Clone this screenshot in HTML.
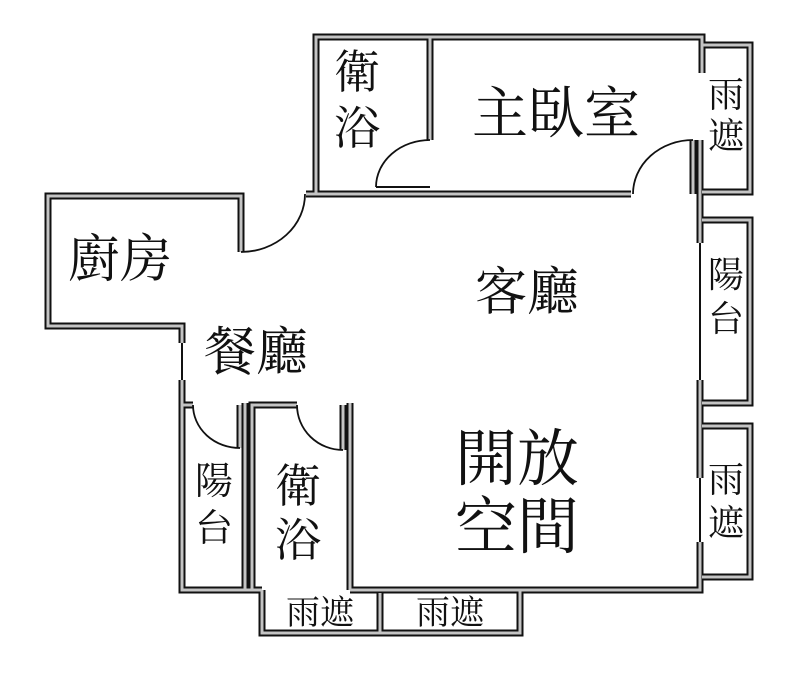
<!DOCTYPE html>
<html><head><meta charset="utf-8"><style>
html,body{margin:0;padding:0;background:#fff;}
svg{display:block;}
text{font-family:"Liberation Serif","Noto Serif CJK SC","Noto Sans CJK TC",serif;fill:#111;text-anchor:middle;}
.wb{fill:none;stroke:#111;stroke-width:7;stroke-linecap:butt;stroke-linejoin:miter;}
.wg{fill:none;stroke:#c4c4c4;stroke-width:3;stroke-linecap:butt;stroke-linejoin:miter;}
.t{fill:none;stroke:#111;stroke-width:2;}
.d{fill:none;stroke:#111;stroke-width:1.8;}
</style></head><body>
<svg width="800" height="698" viewBox="0 0 800 698">
<defs>
<g id="walls">
  <polyline points="316,193 316,37 702,37 702,73"/>
  <polyline points="430,37 430,140"/>
  <polyline points="306,194 631,194"/>
  <polyline points="693,140 693,194"/>
  <polyline points="702,45 750,45 750,192 702,192"/>
  <polyline points="700,140 700,243"/>
  <polyline points="700,380 700,478"/>
  <polyline points="700,542 700,590 350,590"/>
  <polyline points="702,220 750,220 750,403 702,403"/>
  <polyline points="702,426 750,426 750,577 702,577"/>
  <polyline points="241,252 241,196 48,196 48,326 182,326 182,343"/>
  <polyline points="182,380 182,590 245,590 245,403"/>
  <polyline points="182,405 193,405"/>
  <polyline points="240,405 240,448"/>
  <polyline points="252,590 252,405 297,405"/>
  <polyline points="350,590 350,403"/>
  <polyline points="343,405 343,450"/>
  <polyline points="262,590 262,633 520,633 520,590"/>
  <polyline points="380,593 380,633"/>
  <polyline points="245,590 262,590"/>
</g>
</defs>
<g class="wb"><use href="#walls"/></g>
<g class="wg"><use href="#walls"/></g>
<line class="t" x1="700" y1="243" x2="700" y2="380"/>
<line class="t" x1="700" y1="478" x2="700" y2="542"/>
<line class="t" x1="182" y1="343" x2="182" y2="380"/>
<path class="d" d="M430,140 A54,47 0 0 0 376,187"/>
<line x1="376" y1="187" x2="430" y2="187" stroke="#111" stroke-width="2"/>
<path class="d" d="M693,140 A60,54 0 0 0 633,194"/>
<path class="d" d="M241,252 A64,58 0 0 0 305,194"/>
<path class="d" d="M193,405 A47,43 0 0 0 240,448"/>
<path class="d" d="M297,405 A46,45 0 0 0 343,450"/>
<text x="556" y="133" font-size="56">主臥室</text>
<text x="357" y="88" font-size="46">衛</text>
<text x="357" y="144" font-size="46">浴</text>
<text x="726" y="107" font-size="36">雨</text>
<text x="726" y="148" font-size="36">遮</text>
<text x="726" y="287" font-size="36">陽</text>
<text x="726" y="331" font-size="36">台</text>
<text x="726" y="492" font-size="36">雨</text>
<text x="726" y="535" font-size="36">遮</text>
<text x="120" y="277" font-size="52">廚房</text>
<text x="527" y="310" font-size="52">客廳</text>
<text x="256" y="370" font-size="52">餐廳</text>
<text x="517" y="480" font-size="62">開放</text>
<text x="517" y="548" font-size="62">空間</text>
<text x="214" y="494" font-size="38">陽</text>
<text x="214" y="541" font-size="38">台</text>
<text x="298" y="502" font-size="46">衛</text>
<text x="298" y="556" font-size="46">浴</text>
<text x="320" y="624" font-size="34">雨遮</text>
<text x="450" y="624" font-size="34">雨遮</text>
</svg>
</body></html>
